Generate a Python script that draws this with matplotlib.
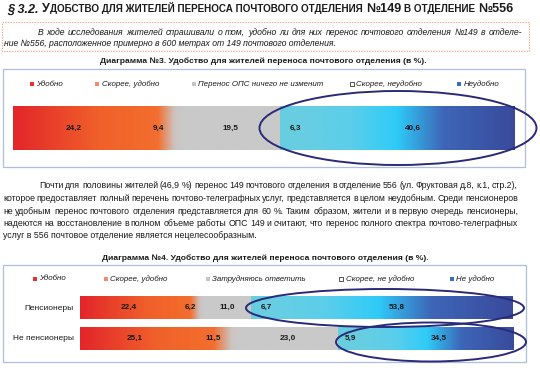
import matplotlib
matplotlib.use('Agg')
import matplotlib.pyplot as plt
import numpy as np
from matplotlib.patches import Rectangle, Ellipse
from matplotlib.colors import LinearSegmentedColormap

plt.rcParams['font.family'] = ['Liberation Sans', 'DejaVu Sans']

# ---------------- data ----------------
legend3 = ['Удобно', 'Скорее, удобно', 'Перенос ОПС ничего не изменит', 'Скорее, неудобно', 'Неудобно']
values3 = [24.2, 9.4, 19.5, 6.3, 40.6]

legend4 = ['Удобно', 'Скорее, удобно', 'Затрудняюсь ответить', 'Скорее, не удобно', 'Не удобно']
rows4 = ['Пенсионеры', 'Не пенсионеры']
values4_pens = [22.4, 6.2, 11.0, 6.7, 53.8]
values4_nonpens = [25.1, 11.5, 23.0, 5.9, 34.5]

title_text = ['§ 3.2.', 'У', 'ДОБСТВО ДЛЯ ЖИТЕЛЕЙ ПЕРЕНОСА ПОЧТОВОГО ОТДЕЛЕНИЯ', '№149', 'В ОТДЕЛЕНИЕ', '№556']
intro_lines = ['В ходе исследования жителей спрашивали о том, удобно ли для них перенос почтового отделения №149 в отделе-',
               'ние №556, расположенное примерно в 600 метрах от 149 почтового отделения.']
para_lines = ['Почти для половины жителей (46,9 %) перенос 149 почтового отделения в отделение 556 (ул. Фруктовая д.8, к.1, стр.2),',
              'которое предоставляет полный перечень почтово-телеграфных услуг, представляется в целом неудобным. Среди пенсионеров',
              'не удобным перенос почтового отделения представляется для 60 %. Таким образом, жители и в первую очередь пенсионеры,',
              'надеются на восстановление в полном объеме работы ОПС 149 и считают, что перенос полного спектра почтово-телеграфных',
              'услуг в 556 почтовое отделение является нецелесообразным.']
chart3_title = 'Диаграмма №3. Удобство для жителей переноса почтового отделения (в %).'
chart4_title = 'Диаграмма №4. Удобство для жителей переноса почтового отделения (в %).'

# ---------------- styles ----------------
W, H = 540, 371
seg_stops = [
    [(0, '#E3252B'), (0.7, '#F0602A'), (1, '#F2682B')],
    [(0, '#F2692B'), (0.5, '#F26E30'), (0.85, '#CBC4C1'), (1, '#C9C9C9')],
    [(0, '#C9C9C9'), (1, '#C9C9C9')],
    [(0, '#6ACDE0'), (1, '#66CEE3')],
    [(0, '#66CEE3'), (0.2, '#5BCEEB'), (0.42, '#2ECBF8'), (0.65, '#3E66B8'), (1, '#394A9B')],
]
legend_colors = ['#E8302A', '#F08A6A', '#C4C4C4', '#FFFFFF', '#3A6EC4']
ell_color = '#2A2A78'
txt_color = '#1A1A1A'

fig = plt.figure(figsize=(W / 100, H / 100), dpi=100)
renderer = fig.canvas.get_renderer()

ov = fig.add_axes([0, 0, 1, 1], zorder=5)
ov.set_xlim(0, W)
ov.set_ylim(H, 0)
ov.axis('off')


def text_width(s, **kw):
    t = ov.text(0, 0, s, **kw)
    w = t.get_window_extent(renderer).width
    t.remove()
    return w


def justify(line, x0, x1, y, **kw):
    words = line.split(' ')
    widths = [text_width(w, **kw) for w in words]
    gap = (x1 - x0 - sum(widths)) / (len(words) - 1)
    x = x0
    for w, wd in zip(words, widths):
        ov.text(x, y, w, ha='left', va='baseline', **kw)
        x += wd + gap


def px_axes(x0, y0, x1, y1):
    return fig.add_axes([x0 / W, 1 - y1 / H, (x1 - x0) / W, (y1 - y0) / H], zorder=2)


def grad_bar(ax, y, values, height):
    cum = np.concatenate([[0], np.cumsum(values)[:-1]])
    bars = ax.barh([y] * len(values), values, left=cum, height=height,
                   color=[s[0][1] for s in seg_stops], linewidth=0, zorder=1)
    for i, b in enumerate(bars):
        cmap = LinearSegmentedColormap.from_list('s%d' % i, seg_stops[i])
        g = cmap(np.linspace(0, 1, 256))[np.newaxis, :, :3]
        im = ax.imshow(g, extent=[cum[i], cum[i] + values[i], y - height / 2, y + height / 2],
                       aspect='auto', interpolation='bilinear', zorder=2)
        im.set_clip_path(b)
        ax.text(cum[i] + values[i] / 2, y, ('%.1f' % values[i]).replace('.', ','),
                ha='center', va='center', fontsize=5.9, fontweight='bold', color=txt_color, zorder=3)


# ---------------- page title ----------------
x = 7
yb = 12.5
specs = [dict(size=9.1, weight='bold', style='italic'), dict(size=9.1, weight='bold'),
         dict(size=7.1, weight='bold'), dict(size=9.1, weight='bold'),
         dict(size=7.1, weight='bold'), dict(size=9.1, weight='bold')]
gaps = [4, 0, 3, 3, 3, 0]
for s, kw, g in zip(title_text, specs, gaps):
    ov.text(x, yb, s, va='baseline', ha='left', color=txt_color, **kw)
    x += text_width(s, **kw) + g

# ---------------- intro box ----------------
ov.add_patch(Rectangle((1.5, 22), 527, 29, fill=False, edgecolor='#F4A47C',
                       linestyle=(0, (1.2, 1.2)), linewidth=0.8))
ikw = dict(fontsize=6.2, style='italic', color=txt_color)
justify(intro_lines[0], 38, 522, 35, **ikw)
ov.text(4, 46, intro_lines[1], ha='left', va='baseline', **ikw)

# ---------------- chart 3 ----------------
ov.text(263, 61, chart3_title, ha='center', va='center', fontsize=6.1, fontweight='bold', color=txt_color)
ov.add_patch(Rectangle((3, 69), 522, 98, fill=False, edgecolor='#AEBEDF', linewidth=0.9))
mx3 = [32, 97, 194, 352, 459]
for lab, c, mx in zip(legend3, legend_colors, mx3):
    ec = '#333333' if c == '#FFFFFF' else 'none'
    ov.add_patch(Rectangle((mx - 2, 82), 4, 4, facecolor=c, edgecolor=ec, linewidth=0.6))
    ov.text(mx + 4.5, 84, lab, ha='left', va='center', fontsize=5.7, style='italic', color=txt_color)

ax3 = px_axes(13, 106, 515, 150)
grad_bar(ax3, 0, values3, 1.0)
ax3.set_xlim(0, 100)
ax3.set_ylim(-0.5, 0.5)
ax3.axis('off')

ov.add_patch(Ellipse((398, 128), 277, 74, fill=False, edgecolor=ell_color, linewidth=1.4))

# ---------------- paragraph ----------------
pkw = dict(fontsize=6.35, color=txt_color)
pys = [188, 201, 213.5, 226, 238.5]
justify(para_lines[0], 39, 518, pys[0], **pkw)
for ln, yy in zip(para_lines[1:4], pys[1:4]):
    justify(ln, 3, 518, yy, **pkw)
ov.text(3, pys[4], para_lines[4], ha='left', va='baseline', **pkw)

# ---------------- chart 4 ----------------
ov.text(265, 258, chart4_title, ha='center', va='center', fontsize=6.1, fontweight='bold', color=txt_color)
ov.add_patch(Rectangle((3, 264.5), 523, 97.5, fill=False, edgecolor='#AEBEDF', linewidth=0.9))
mx4 = [35, 106, 208, 341, 452]
for lab, c, mx in zip(legend4, legend_colors, mx4):
    ec = '#333333' if c == '#FFFFFF' else 'none'
    ov.add_patch(Rectangle((mx - 2, 277), 4, 4, facecolor=c, edgecolor=ec, linewidth=0.6))
    ov.text(mx + 4.5, 279, lab, ha='left', va='center', fontsize=5.7, style='italic', color=txt_color)

ax4 = px_axes(80, 292, 513, 355)
grad_bar(ax4, 1, values4_pens, 0.71)
grad_bar(ax4, 0, values4_nonpens, 0.74)
ax4.set_xlim(0, 100)
ax4.set_ylim(-16.5 / 31, 1 + 15.5 / 31)
ax4.axis('off')
for lab, yy in zip(rows4, [308, 338.5]):
    ov.text(74, yy, lab, ha='right', va='center', fontsize=6.0, color=txt_color)

ov.add_patch(Ellipse((385, 308), 278, 38, fill=False, edgecolor=ell_color, linewidth=1.4))
ov.add_patch(Ellipse((431, 342), 190, 39, fill=False, edgecolor=ell_color, linewidth=1.4))

fig.savefig('out.png', dpi=100)
